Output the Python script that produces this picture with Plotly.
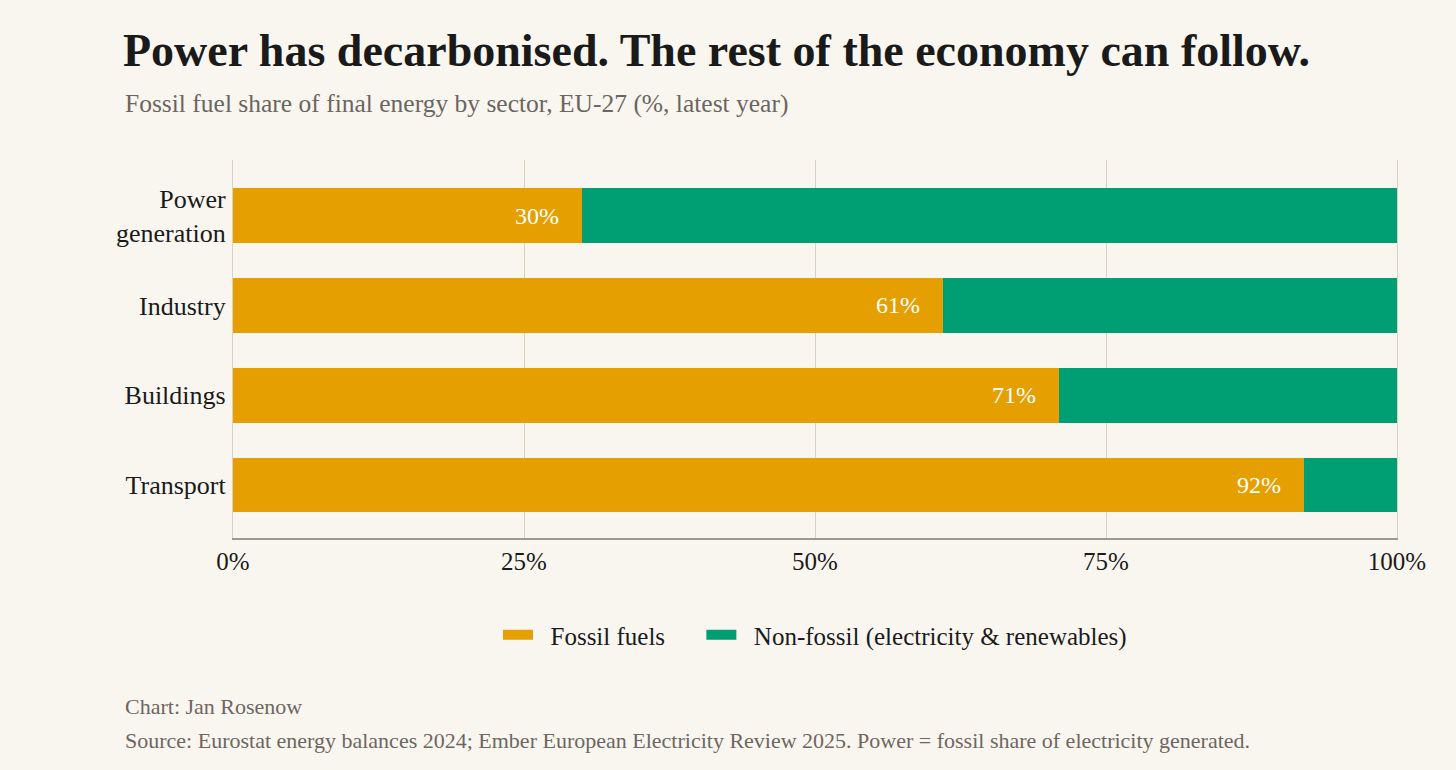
import plotly.graph_objects as go

# Data: fossil share of final energy by sector, EU-27 (%)
sectors = ["Power<br>generation", "Industry", "Buildings", "Transport"]
fossil_share = [30, 61, 71, 92]
non_fossil_share = [100 - v for v in fossil_share]
x_ticks = [0, 25, 50, 75, 100]
x_tick_labels = ["0%", "25%", "50%", "75%", "100%"]
series_names = ["Fossil fuels", "Non-fossil (electricity & renewables)"]

FONT = "Liberation Serif"
BG = "#F9F6F0"
ORANGE = "#E69F00"
GREEN = "#009E73"
GRID = "#DAD1C3"

# plot area in pixels (reference layout)
W, H = 1456, 770
L, R, T, B = 233, 59, 160, 232
plot_h = H - T - B


def py(pixel_y):
    """pixel y (from top) -> paper y"""
    return (H - B - pixel_y) / plot_h


def px_(pixel_x):
    return (pixel_x - L) / (W - L - R)


fig = go.Figure()
for vals, name, col in zip([fossil_share, non_fossil_share], series_names, [ORANGE, GREEN]):
    fig.add_trace(go.Bar(
        y=sectors, x=vals, orientation="h", name=name, showlegend=False,
        marker=dict(color=col, line=dict(width=0)), width=0.61,
    ))

# legend entries drawn as thick short lines -> wide rectangular swatches
for i, (name, col) in enumerate(zip(series_names, [ORANGE, GREEN])):
    pad = "\u00a0" * 5 if i == 0 else ""
    fig.add_trace(go.Scatter(
        x=[None], y=[None], mode="lines", name="\u00a0\u00a0" + name + pad,
        line=dict(color=col, width=16), hoverinfo="skip",
    ))

# value labels inside the fossil bars
for s, v in zip(sectors, fossil_share):
    fig.add_annotation(
        x=v, y=s, text=f"{v}%", showarrow=False, xanchor="right",
        xshift=-21, font=dict(family=FONT, size=24, color="white"),
    )

# subtitle and footer
fig.add_annotation(
    xref="paper", yref="paper", x=px_(123), y=py(103), xanchor="left",
    yanchor="middle", showarrow=False,
    text="Fossil fuel share of final energy by sector, EU-27 (%, latest year)",
    font=dict(family=FONT, size=25.5, color="#6b6560"),
)
fig.add_annotation(
    xref="paper", yref="paper", x=px_(123), y=py(706), xanchor="left",
    yanchor="middle", showarrow=False, text="Chart: Jan Rosenow",
    font=dict(family=FONT, size=22, color="#6e6660"),
)
fig.add_annotation(
    xref="paper", yref="paper", x=px_(123), y=py(740), xanchor="left",
    yanchor="middle", showarrow=False,
    text="Source: Eurostat energy balances 2024; Ember European Electricity Review 2025. "
         "Power = fossil share of electricity generated.",
    font=dict(family=FONT, size=22, color="#6e6660"),
)

fig.update_layout(
    width=W, height=H,
    barmode="stack",
    paper_bgcolor=BG, plot_bgcolor=BG,
    margin=dict(l=L, r=R, t=T, b=B),
    title=dict(
        text="<b>Power has decarbonised. The rest of the economy can follow.</b>",
        x=123 / W, xref="container", xanchor="left",
        y=1 - 50 / H, yref="container", yanchor="middle",
        font=dict(family=FONT, size=46, color="#1a1a1a"),
    ),
    font=dict(family=FONT, size=25, color="#1a1a1a"),
    showlegend=True,
    legend=dict(
        orientation="h", x=0.5, xanchor="center", y=py(635), yanchor="middle",
        font=dict(family=FONT, size=25, color="#1a1a1a"),
        bgcolor="rgba(0,0,0,0)", traceorder="normal",
    ),
    bargap=0.39,
)

fig.update_xaxes(
    range=[0, 100], tickvals=x_ticks, ticktext=x_tick_labels,
    showgrid=True, gridcolor=GRID, gridwidth=1.2,
    zeroline=False, showline=True, linecolor="#9b9791", linewidth=2,
    ticks="", ticklen=0, ticklabelstandoff=0, fixedrange=True,
    tickfont=dict(family=FONT, size=25, color="#1a1a1a"),
)
fig.update_yaxes(
    categoryorder="array", categoryarray=sectors,
    range=[3.59, -0.62], showgrid=False, zeroline=False,
    showline=True, mirror=True, linecolor=GRID, linewidth=1.2,
    ticks="", ticklabelstandoff=1, fixedrange=True,
    tickfont=dict(family=FONT, size=26, color="#1a1a1a"),
)

# drop the browser's default page margin so the figure sits at the top-left corner
fig.write_html("out.html", config={"displayModeBar": False},
               post_script="document.body.style.margin='0';")
